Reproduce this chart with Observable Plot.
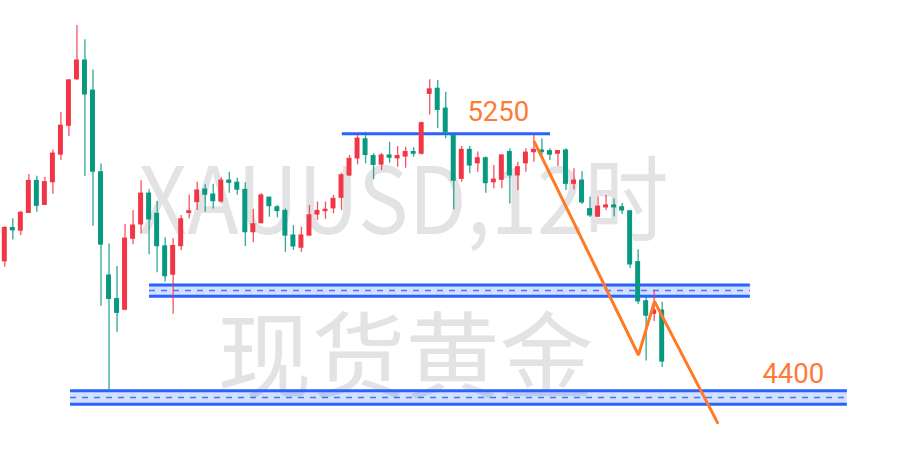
<!DOCTYPE html>
<html>
<head>
<meta charset="utf-8">
<script src="https://cdn.jsdelivr.net/npm/d3@7"></script>
<script src="https://cdn.jsdelivr.net/npm/@observablehq/plot@0.6"></script>
<style>
  html, body { margin: 0; padding: 0; background: #ffffff; }
  #chart svg { display: block; }
</style>
</head>
<body>
<div id="chart"></div>
<script>
// XAUUSD 12-hour candles (open / high / low / close), oldest first
const opens  = [4839,4946,4938,4995,5098,5021,5094,5183,5276,5426,5486,5389,5126,4793,4717,4683,4912,4958,5057,4992,
                4887,4796,4888,4995,5030,5070,5054,5032,5099,5092,5069,4933,4962,5044,5013,5001,4922,4883,4922,4990,
                5001,5010,5044,5116,5171,5232,5178,5151,5180,5171,5177,5191,5186,5379,5395,5331,5245,5105,5198,5155,
                5171,5094,5102,5191,5116,5155,5191,5196,5194,5186,5196,5089,5099,5007,4983,5013,5019,5013,5000,4836,
                4710,4670,4680];
const highs  = [4951,4976,5000,5119,5113,5109,5198,5319,5424,5599,5553,5456,5153,4895,4822,4958,5003,5099,5070,5032,
                4915,4912,4987,5053,5094,5086,5087,5108,5126,5107,5092,5006,5057,5046,5019,5008,4954,4949,5019,5030,
                5030,5051,5123,5180,5245,5255,5186,5186,5223,5209,5207,5205,5287,5424,5422,5384,5250,5209,5209,5191,
                5175,5148,5182,5202,5158,5202,5245,5234,5202,5196,5202,5137,5128,5046,5046,5051,5040,5025,5003,4876,
                4724,4746,4707];
const lows   = [4820,4908,4922,4994,4997,5019,5055,5164,5241,5422,5112,4952,4694,4423,4610,4680,4892,4928,4860,4802,
                4772,4668,4874,4976,5003,4997,5008,5026,5058,5053,4887,4899,4960,4981,4979,4868,4874,4868,4920,4971,
                4974,4992,5003,5112,5150,5153,5102,5132,5155,5142,5139,5175,5182,5311,5266,5234,5005,5094,5121,5126,
                5058,5073,5073,5024,5067,5126,5158,5180,5164,5145,5067,5069,5022,4980,4980,5003,4983,4990,4816,4700,
                4518,4645,4497];
const closes = [4946,4939,4995,5098,5018,5094,5186,5276,5422,5486,5377,5128,4893,4718,4673,4912,4954,5057,4974,4888,
                4791,4888,4974,5000,5067,5054,5033,5099,5092,5070,4933,4958,5051,5017,5001,4922,4887,4922,4987,5001,
                5005,5040,5116,5169,5234,5182,5150,5180,5173,5178,5191,5186,5284,5393,5327,5255,5099,5198,5148,5171,
                5091,5102,5180,5116,5142,5189,5198,5191,5183,5194,5089,5099,5029,4987,5015,5019,5013,5003,4829,4710,
                4664,4680,4516];

// Horizontal price zones (bottom / middle / top) and their span in bar index units
const zoneBottoms = [4726, 4378];
const zoneMids    = [4745, 4400];
const zoneTops    = [4763, 4422];
const zoneStarts  = [18.05, 8.2];
const zoneEnds    = [93.0, 105.1];

// Resistance line at 5250
const resistanceLevel = 5250;
const resistanceSpan  = [42.1, 68.07];

// Projected path (bar index, price)
const pathIdx    = [66.07, 79.04, 81.04, 88.9];
const pathPrice  = [5223, 4537, 4710, 4319];

// Price labels
const labelTexts  = ["5250", "4400"];
const labelIdx    = [57.7, 94.5];
const labelPrices = [5250, 4400];

// Watermark
const watermarkSymbol = "XAUUSD,12时";
const watermarkName   = "现货黄金";

const UP = "#F23645", DOWN = "#089981", BLUE = "#2962FF", ORANGE = "#FF7A22", LABEL = "#FF7A36";

const candles = opens.map((o, i) => ({i, o, h: highs[i], l: lows[i], c: closes[i]}));
const zones = zoneMids.map((m, k) => ({x1: zoneStarts[k], x2: zoneEnds[k], lo: zoneBottoms[k], mid: m, hi: zoneTops[k]}));
const zoneEdges = zones.flatMap(z => [{x1: z.x1, x2: z.x2, y: z.lo}, {x1: z.x1, x2: z.x2, y: z.hi}]);
const path = pathIdx.map((x, k) => ({x, y: pathPrice[k]}));
const labels = labelTexts.map((t, k) => ({t, x: labelIdx[k], y: labelPrices[k]}));

const color = d => d.c >= d.o ? UP : DOWN;

const chart = Plot.plot({
  width: 922,
  height: 464,
  margin: 0,
  x: {type: "linear", domain: [-0.5364, 114.47], axis: null},
  y: {domain: [4184.0, 5679.7], axis: null},
  style: {background: "#ffffff", overflow: "visible"},
  marks: [
    // watermark
    Plot.text([watermarkSymbol], {
      text: d => d, frameAnchor: "top-left", dx: 403, dy: 233,
      textAnchor: "middle", lineAnchor: "bottom",
      fontSize: 93, fontFamily: "'Noto Sans CJK SC', sans-serif", fill: "#e3e3e6",
      className: "wm-symbol"
    }),
    Plot.text([watermarkName], {
      text: d => d, frameAnchor: "top-left", dx: 405, dy: 390,
      textAnchor: "middle", lineAnchor: "bottom",
      fontSize: 94, fontFamily: "'Noto Sans CJK SC', sans-serif", fill: "#e3e3e6"
    }),
    // zones
    Plot.rect(zones, {x1: "x1", x2: "x2", y1: "lo", y2: "hi", fill: BLUE, fillOpacity: 0.2}),
    Plot.ruleY(zoneEdges, {x1: "x1", x2: "x2", y: "y", stroke: BLUE, strokeWidth: 3}),
    Plot.ruleY(zones, {x1: "x1", x2: "x2", y: "mid", stroke: BLUE, strokeOpacity: 0.85, strokeWidth: 1.5, strokeDasharray: "6,6"}),
    // resistance
    Plot.ruleY([resistanceLevel], {x1: resistanceSpan[0], x2: resistanceSpan[1], stroke: BLUE, strokeWidth: 3}),
    // candles
    Plot.ruleX(candles, {x: "i", y1: "l", y2: "h", stroke: color, strokeWidth: 1.3, strokeOpacity: 0.85}),
    Plot.rect(candles, {
      x1: d => d.i - 0.31, x2: d => d.i + 0.31,
      y1: d => Math.min(d.o, d.c), y2: d => Math.max(d.o, d.c),
      fill: color, insetTop: -0.6, insetBottom: -0.6
    }),
    // projected path
    Plot.line(path, {x: "x", y: "y", stroke: ORANGE, strokeWidth: 3, strokeLinejoin: "miter"}),
    // labels
    Plot.text(labels.slice(0, 1), {
      x: "x", y: "y", text: "t", dy: -12.5, textAnchor: "start", lineAnchor: "bottom",
      fontSize: 27.5, fontFamily: "Roboto, sans-serif", fill: LABEL
    }),
    Plot.text(labels.slice(1), {
      x: "x", y: "y", text: "t", dy: -14, textAnchor: "start", lineAnchor: "bottom",
      fontSize: 27.5, fontFamily: "Roboto, sans-serif", fill: LABEL
    })
  ]
});

// fit the symbol watermark to its drawn width
chart.querySelectorAll(".wm-symbol text, g.wm-symbol text, text.wm-symbol").forEach(t => {
  t.setAttribute("textLength", 530);
  t.setAttribute("lengthAdjust", "spacingAndGlyphs");
});

document.getElementById("chart").appendChild(chart);
</script>
</body>
</html>
